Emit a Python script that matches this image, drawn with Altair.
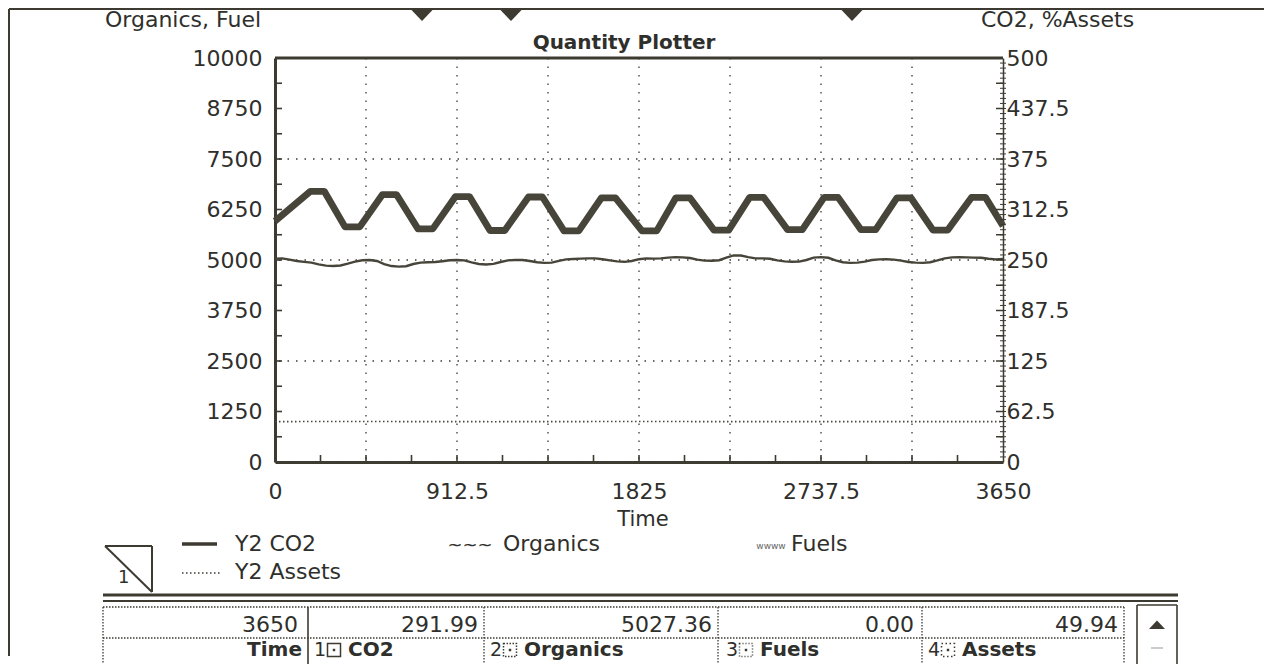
import altair as alt
import pandas as pd

# ---------------- data ----------------
co2_time = [0, 177, 247, 351, 425, 539, 609, 717, 791, 905, 975, 1078, 1152, 1271, 1341,
            1449, 1523, 1637, 1707, 1840, 1914, 2010, 2080, 2201, 2275, 2380, 2450, 2570,
            2644, 2753, 2823, 2938, 3012, 3118, 3188, 3299, 3373, 3492, 3562, 3650]
co2_value = [298, 335, 335, 291, 291, 331, 331, 288.5, 288.5, 328.5, 328.5, 286.5, 286.5,
             328, 328, 286, 286, 327, 327, 286, 286, 327, 327, 287, 287, 327.5, 327.5,
             287.5, 287.5, 327.5, 327.5, 287.5, 287.5, 327, 327, 287, 287, 327.5, 327.5, 291.99]

org_step = 36.5
organics_value = [5030, 5040, 5010, 4975, 4955, 4935, 4890, 4860, 4850, 4865,
                  4910, 4960, 4995, 5000, 4975, 4900, 4850, 4835, 4845, 4900,
                  4935, 4945, 4950, 4970, 4995, 5000, 4990, 4940, 4900, 4890,
                  4905, 4950, 4990, 5000, 5000, 4975, 4945, 4930, 4935, 4980,
                  5015, 5025, 5035, 5040, 5040, 5020, 4990, 4965, 4955, 4975,
                  5020, 5040, 5035, 5040, 5060, 5070, 5065, 5050, 5010, 4985,
                  4980, 4995, 5060, 5115, 5110, 5070, 5040, 5040, 5030, 4990,
                  4965, 4955, 4960, 5000, 5060, 5070, 5055, 4990, 4945, 4930,
                  4935, 4960, 5000, 5015, 5020, 5010, 4985, 4950, 4935, 4930,
                  4945, 4990, 5040, 5065, 5070, 5065, 5060, 5055, 5030, 5015,
                  5027.36]
organics_time = [round(i * org_step, 2) for i in range(len(organics_value))]

assets_time = [0, 365, 730, 1095, 1460, 1825, 2190, 2555, 2920, 3285, 3650]
assets_value = [50.0, 50.1, 50.0, 49.9, 50.0, 50.1, 50.0, 49.9, 50.0, 50.0, 49.94]
fuels_time = [0, 365, 730, 1095, 1460, 1825, 2190, 2555, 2920, 3285, 3650]
fuels_value = [0, 0, 0, 0, 0, 0, 0, 0, 0, 0, 0]

x_label_values = [0, 912.5, 1825, 2737.5, 3650]
x_grid_values = [456.25, 912.5, 1368.75, 1825, 2281.25, 2737.5, 3193.75]
x_tick_values = [228.125 * i for i in range(1, 16)]
yl_label_values = [0, 1250, 2500, 3750, 5000, 6250, 7500, 8750, 10000]
yl_tick_values = [625 * i for i in range(1, 16)]
yl_grid_values = [2500, 5000, 7500]
yr_label_values = [0, 62.5, 125, 187.5, 250, 312.5, 375, 437.5, 500]
yr_minor_ticks = [6.25 * i for i in range(1, 80)]
yr_major_ticks = [31.25 * i for i in range(1, 16)]

# ---------------- style ----------------
W, H = 728, 404
INK = "#3d3a31"
LINE = "#47443a"
TEXT = "#2f2f2c"
FONT = "DejaVu Sans, Verdana, sans-serif"
FS = 22
LBL = "toString(datum.value)"

x_scale = alt.Scale(domain=[0, 3650], nice=False, zero=False)
yl_scale = alt.Scale(domain=[0, 10000], nice=False)
yr_scale = alt.Scale(domain=[0, 500], nice=False)

X_AX = dict(values=x_label_values, labelExpr=LBL, title=None, tickSize=0, labelPadding=19,
            domainWidth=3, domainColor=INK, labelFont=FONT, labelFontSize=FS,
            labelColor=TEXT, labelFlush=False, labelOverlap=False, grid=False)
YL_AX = dict(orient="left", values=yl_label_values, labelExpr=LBL, title=None, tickSize=0,
             labelPadding=13, domainWidth=3, domainColor=INK, labelFont=FONT,
             labelFontSize=FS, labelColor=TEXT, labelOverlap=False, grid=False)
YR_AX = dict(orient="right", values=yr_label_values, labelExpr=LBL, title=None, tickSize=0,
             labelPadding=3, domainWidth=1.5, domainColor=INK, labelFont=FONT,
             labelFontSize=FS, labelColor=TEXT, labelOverlap=False, grid=False)


def XE(field):
    return alt.X(field, scale=x_scale, axis=alt.Axis(**X_AX))


def YL(field):
    return alt.Y(field, scale=yl_scale, axis=alt.Axis(**YL_AX))


def YR(field):
    return alt.Y(field, scale=yr_scale, axis=alt.Axis(**YR_AX))


dummy = pd.DataFrame({"d": [0]})


def df(t, v):
    return pd.DataFrame({"t": t, "v": v})


def vals(v):
    return pd.DataFrame({"v": v})


# ---------------- left (Organics, Fuel) group ----------------
hgrid = alt.Chart(vals(yl_grid_values)).mark_rule(
    color=INK, strokeWidth=1.3, strokeDash=[1.5, 7]
).encode(y=YL("v:Q"))

vgrid = alt.Chart(vals(x_grid_values)).mark_rule(
    color=INK, strokeWidth=1.3, strokeDash=[1.5, 7]
).encode(x=XE("v:Q"))

left_ticks = alt.Chart(vals(yl_tick_values)).mark_rule(color=INK, strokeWidth=1.6).encode(
    y=YL("v:Q"), x=alt.value(0), x2=alt.value(7))

bottom_ticks = alt.Chart(vals(x_tick_values)).mark_rule(color=INK, strokeWidth=1.6).encode(
    x=XE("v:Q"), y=alt.value(H), y2=alt.value(H - 7))

organics = alt.Chart(df(organics_time, organics_value)).mark_line(
    color=LINE, strokeWidth=2.4
).encode(x=XE("t:Q"), y=YL("v:Q"))

fuels = alt.Chart(df(fuels_time, fuels_value)).mark_line(
    color=LINE, strokeWidth=1.2, strokeDash=[1, 2]
).encode(x=XE("t:Q"), y=YL("v:Q"))

left_group = alt.layer(hgrid, vgrid, left_ticks, bottom_ticks, organics, fuels)

# ---------------- right (CO2, %Assets) group ----------------
co2 = alt.Chart(df(co2_time, co2_value)).mark_line(
    color=LINE, strokeWidth=6.8, strokeJoin="round", strokeCap="butt"
).encode(x=XE("t:Q"), y=YR("v:Q"))

assets = alt.Chart(df(assets_time, assets_value)).mark_line(
    color=LINE, strokeWidth=1.6, strokeDash=[1.5, 2.5]
).encode(x=XE("t:Q"), y=YR("v:Q"))

right_minor = alt.Chart(vals(yr_minor_ticks)).mark_rule(color=INK, strokeWidth=1).encode(
    y=YR("v:Q"), x=alt.value(W - 3), x2=alt.value(W + 3))
right_major = alt.Chart(vals(yr_major_ticks)).mark_rule(color=INK, strokeWidth=1.5).encode(
    y=YR("v:Q"), x=alt.value(W - 7), x2=alt.value(W))

right_group = alt.layer(co2, assets, right_minor, right_major)


# ---------------- annotations ----------------
def txt(s, x, y, size=FS, bold=False, align="left", color=TEXT):
    return alt.Chart(dummy).mark_text(
        text=s, align=align, baseline="middle", fontSize=size, font=FONT,
        fontWeight="bold" if bold else "normal", color=color
    ).encode(x=alt.value(x), y=alt.value(y))


def rule(x, y, x2, y2, w=1.5, dash=None, color=INK):
    kw = dict(color=color, strokeWidth=w)
    if dash:
        kw["strokeDash"] = dash
    return alt.Chart(dummy).mark_rule(**kw).encode(
        x=alt.value(x), y=alt.value(y), x2=alt.value(x2), y2=alt.value(y2))


def sym(shape, x, y, size, filled=True, w=1.5, dash=None, color=INK):
    kw = dict(shape=shape, size=size, filled=filled, color=color, opacity=1,
              strokeWidth=w)
    if dash:
        kw["strokeDash"] = dash
    return alt.Chart(dummy).mark_point(**kw).encode(x=alt.value(x), y=alt.value(y))


annots = []
# window frame + markers
annots.append(rule(-266, -49, 990, -49, w=2))
annots.append(rule(-266, -49, -266, 598, w=2))
tri_down = "M-1,-0.5L1,-0.5L0,0.55Z"
for px in (147, 236, 577):
    annots.append(sym(tri_down, px, -43, 484))
# plot top border
annots.append(rule(0, 0, W, 0, w=3))
# headings
annots.append(txt("Organics, Fuel", -170, -38))
annots.append(txt("CO2, %Assets", 706, -38))
annots.append(txt("Quantity Plotter", 349, -15, size=20, bold=True, align="center"))
annots.append(txt("Time", 368, 462, size=21, align="center"))

# legend
annots.append(rule(-170, 488, -123, 488, w=2))
annots.append(rule(-123, 488, -123, 534, w=2))
annots.append(rule(-170, 488, -123, 534, w=2))
annots.append(txt("1", -157, 520, size=18))
annots.append(rule(-93, 486, -58, 486, w=3.5))
annots.append(txt("Y2 CO2", -40, 486))
annots.append(txt("~~~", 195, 488, size=18, align="center"))
annots.append(txt("Organics", 228, 486))
annots.append(txt("wwww", 496, 488, size=9, align="center", color="#666"))
annots.append(txt("Fuels", 516, 486))
annots.append(rule(-93, 515, -55, 515, w=1.6, dash=[1.5, 2.5]))
annots.append(txt("Y2 Assets", -40, 514))

# table
R1, R2 = 567, 592
annots.append(rule(-172, 537, 903, 537, w=3))
annots.append(rule(-172, 543, 903, 543, w=2))
annots.append(rule(-172, 549, 849, 549, w=1.3, dash=[1.5, 1.5]))
annots.append(rule(-172, 580, 849, 580, w=1.3, dash=[1.5, 1.5]))
annots.append(rule(-172, 549, -172, 620, w=1.3, dash=[1.5, 1.5]))
annots.append(rule(33, 549, 33, 620, w=1.6))
for px in (209, 443, 647, 849):
    annots.append(rule(px, 549, px, 620, w=1.3, dash=[1.5, 1.5]))
annots.append(rule(862, 547, 862, 620, w=1.6))
annots.append(rule(902, 547, 902, 620, w=1.6))
annots.append(rule(862, 547, 902, 547, w=1.6))
annots.append(sym("M-1,0.5L1,0.5L0,-0.55Z", 882, R1, 256))
annots.append(rule(876, 590, 888, 590, w=1, color="#999"))

annots.append(txt(f"{co2_time[-1]:g}", 23, R1, align="right"))
annots.append(txt(f"{co2_value[-1]:.2f}", 203, R1, align="right"))
annots.append(txt(f"{organics_value[-1]:.2f}", 437, R1, align="right"))
annots.append(txt(f"{fuels_value[-1]:.2f}", 639, R1, align="right"))
annots.append(txt(f"{assets_value[-1]:.2f}", 843, R1, align="right"))

annots.append(txt("Time", 27, R2, size=20, bold=True, align="right"))
cols = [("1", "CO2", 39, None), ("2", "Organics", 215, [1.5, 1.5]),
        ("3", "Fuels", 451, [1, 2]), ("4", "Assets", 653, [1.5, 2.5])]
for num, name, px, dash in cols:
    annots.append(txt(num, px, R2, size=19))
    annots.append(sym("square", px + 20, R2, 169, filled=False, w=1.5, dash=dash))
    annots.append(sym("square", px + 20, R2, 6))
    annots.append(txt(name, px + 34, R2, size=20, bold=True))

chart = alt.layer(left_group, right_group, *annots).resolve_scale(
    y="independent"
).properties(
    width=W, height=H,
    autosize=alt.AutoSizeParams(type="none"),
    padding={"left": 267, "top": 50, "right": 261, "bottom": 202},
    background="white",
).configure_view(stroke=None)

chart.save("out.html", embed_options={"renderer": "svg", "actions": False})
